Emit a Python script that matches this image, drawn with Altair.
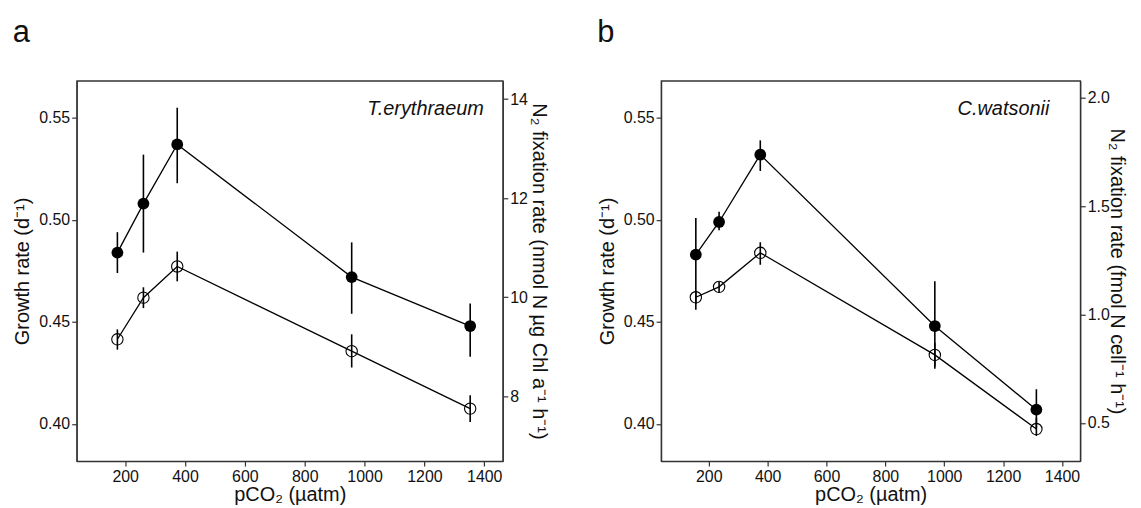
import altair as alt
import pandas as pd

FONT = "Liberation Sans"

# ---- Panel a: T. erythraeum ----
pco2_t = [174, 261, 374, 957, 1353]
growth_t = [0.484, 0.508, 0.537, 0.472, 0.448]
growth_t_lo = [0.474, 0.484, 0.518, 0.454, 0.433]
growth_t_hi = [0.494, 0.532, 0.555, 0.489, 0.459]
n2_t = [9.15, 9.99, 10.62, 8.91, 7.75]
n2_t_lo = [8.94, 9.78, 10.32, 8.58, 7.48]
n2_t_hi = [9.35, 10.20, 10.92, 9.25, 8.02]

# ---- Panel b: C. watsonii ----
pco2_c = [156, 235, 375, 968, 1313]
growth_c = [0.483, 0.499, 0.532, 0.448, 0.407]
growth_c_lo = [0.456, 0.495, 0.524, 0.427, 0.398]
growth_c_hi = [0.501, 0.504, 0.539, 0.470, 0.417]
n2_c = [1.08, 1.128, 1.285, 0.814, 0.472]
n2_c_lo = [1.05, 1.10, 1.23, 0.76, 0.44]
n2_c_hi = [1.11, 1.15, 1.334, 0.87, 0.523]

x_ticks = [200, 400, 600, 800, 1000, 1200, 1400]
growth_ticks = [0.40, 0.45, 0.50, 0.55]
n2_t_ticks = [8, 10, 12, 14]
n2_c_ticks = [0.5, 1.0, 1.5, 2.0]

X_DOMAIN = [38, 1462]
G_DOMAIN = [0.3818, 0.5682]


def panel(pco2, g, glo, ghi, n, nlo, nhi, n_domain, n_ticks, n_fmt, n_title,
          n_title_pad, species, species_dx, width, height, label):
    df = pd.DataFrame(dict(pco2=pco2, g=g, glo=glo, ghi=ghi, n=n, nlo=nlo, nhi=nhi))
    base = alt.Chart(df)
    x = alt.X("pco2:Q", scale=alt.Scale(domain=X_DOMAIN, nice=False, zero=False),
              axis=alt.Axis(values=x_ticks, format="d", title="pCO₂ (µatm)",
                            titlePadding=1))
    gscale = alt.Scale(domain=G_DOMAIN, nice=False, zero=False)
    nscale = alt.Scale(domain=n_domain, nice=False, zero=False)
    gaxis = alt.Axis(values=growth_ticks, format=".2f", title="Growth rate (d⁻¹)",
                     orient="left", titlePadding=6)
    naxis = alt.Axis(values=n_ticks, format=n_fmt, title=n_title, orient="right",
                     titlePadding=n_title_pad)

    g_rule = base.mark_rule(color="black", strokeWidth=1.6).encode(
        x=x, y=alt.Y("glo:Q", scale=gscale, axis=gaxis), y2="ghi:Q")
    g_line = base.mark_line(color="black", strokeWidth=1.3).encode(
        x=x, y=alt.Y("g:Q", scale=gscale, axis=gaxis))
    g_pt = base.mark_point(filled=True, size=140, color="black", opacity=1).encode(
        x=x, y=alt.Y("g:Q", scale=gscale, axis=gaxis))
    growth = alt.layer(g_rule, g_line, g_pt)

    n_rule = base.mark_rule(color="black", strokeWidth=1.6).encode(
        x=x, y=alt.Y("nlo:Q", scale=nscale, axis=naxis), y2="nhi:Q")
    n_line = base.mark_line(color="black", strokeWidth=1.3).encode(
        x=x, y=alt.Y("n:Q", scale=nscale, axis=naxis))
    n_pt = base.mark_point(filled=False, size=130, color="black", strokeWidth=1.1,
                           opacity=1).encode(
        x=x, y=alt.Y("n:Q", scale=nscale, axis=naxis))
    n2 = alt.layer(n_rule, n_line, n_pt)

    txt = alt.Chart(pd.DataFrame({"t": [species]})).mark_text(
        font=FONT, fontSize=20, fontStyle="italic", align="right",
        baseline="alphabetic", color="#111").encode(
        text="t:N", x=alt.value(width - species_dx), y=alt.value(34))

    return alt.layer(growth, n2, txt).resolve_scale(y="independent").properties(
        width=width, height=height,
        title=alt.TitleParams(label, anchor="start", fontSize=31, font=FONT,
                              fontWeight="normal", color="#111", offset=32,
                              frame="bounds"))


left = panel(pco2_t, growth_t, growth_t_lo, growth_t_hi, n2_t, n2_t_lo, n2_t_hi,
             [6.69, 14.37], n2_t_ticks, "d",
             "N₂ fixation rate (nmol N µg Chl a⁻¹ h⁻¹)", 1, "T.erythraeum", 19,
             428, 382, "a")
right = panel(pco2_c, growth_c, growth_c_lo, growth_c_hi, n2_c, n2_c_lo, n2_c_hi,
              [0.324, 2.079], n2_c_ticks, ".1f",
              "N₂ fixation rate (fmol N cell⁻¹ h⁻¹)", -3, "C.watsonii", 31,
              421, 382, "b")

chart = alt.hconcat(left, right, spacing=47).configure_view(
    stroke="#333", strokeWidth=1.3
).configure_axis(
    grid=False, domainColor="#333", domainWidth=1.3, tickColor="#333",
    tickWidth=1.2, tickSize=5, labelFont=FONT, titleFont=FONT,
    labelFontSize=16, titleFontSize=20, titleFontWeight="normal",
    labelColor="#111", titleColor="#111", labelPadding=2
).properties(padding={"left": 4, "top": 7, "right": 6, "bottom": 0})

chart.save("out.html", embed_options={"renderer": "svg", "actions": False})
